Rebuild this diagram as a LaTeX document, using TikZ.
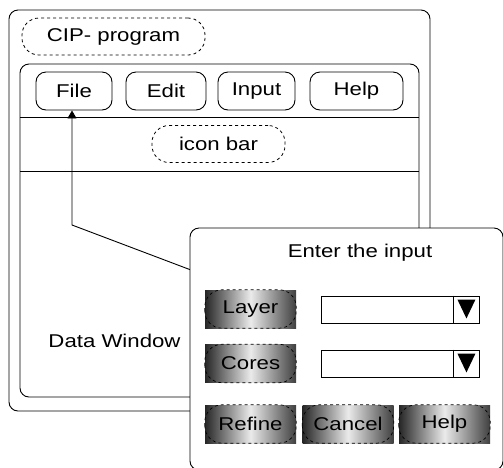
\documentclass[tikz,border=0pt]{standalone}
\usepackage{fontspec}
\setmainfont{Liberation Sans}[FakeStretch=1.2]
\usetikzlibrary{arrows.meta}
\tikzset{
  win/.style={draw, line width=0.9pt, rounded corners=9pt, inner sep=0pt, fill=white},
  menubtn/.style={draw, line width=0.9pt, rounded corners=10pt, inner sep=0pt, minimum height=38pt},
  tag/.style={draw, dashed, line width=0.8pt, rounded corners=17pt, inner sep=0pt, minimum height=37pt},
  shbtn/.style={inner sep=0pt, minimum width=91pt, minimum height=38pt, left color=black!85, right color=black!75, middle color=white!92!black},
  combo/.style={draw, line width=0.9pt, inner sep=0pt, minimum width=158pt, minimum height=27pt},
  txt/.style={inner sep=0pt, font=\fontsize{18.5}{22}\selectfont},
}
\begin{document}
\begin{tikzpicture}[x=1pt,y=-1pt, font=\fontsize{18.5}{22}\selectfont]
\useasboundingbox[fill=white] (0,0) rectangle (503,467);
% outer window
\node[win, minimum width=421pt, minimum height=401pt] (outer) at (219.5,210.5) {};
\node[tag, minimum width=183pt] (title) at (113.5,36.5) {CIP- program};
% inner window
\node[win, minimum width=399pt, minimum height=333pt] (inner) at (219.5,230.5) {};
\node[menubtn, minimum width=76pt] (file) at (74,91) {File};
\node[menubtn, minimum width=80pt] (edit) at (166,91) {Edit};
\node[menubtn, minimum width=77pt] (input) at (256.5,91) {Input};
\node[menubtn, minimum width=93pt] (help) at (356.5,91) {Help};
\coordinate (l1a) at (20,117); \coordinate (l1b) at (419,117);
\coordinate (l2a) at (20,171); \coordinate (l2b) at (419,171);
\draw[line width=0.9pt] (l1a) -- (l1b);
\draw[line width=0.9pt] (l2a) -- (l2b);
\node[tag, minimum width=133pt] (icon) at (218.5,144) {icon bar};
\node[txt] (data) at (114.5,341) {Data Window};
% arrow
\coordinate (bend) at (72,225);
\coordinate (tip) at (191,270);
\draw[line width=0.9pt, -{Triangle[length=8pt,width=9pt]}] (tip) -- (bend) -- (bend |- file.south);
% dialog
\node[win, minimum width=313pt, minimum height=242pt] (dlg) at (346.5,349) {};
\node[txt] (enter) at (360,253) {Enter the input};
% shaded buttons
\foreach \n/\t/\x/\y in {layer/Layer/250.5/309, cores/Cores/250.5/363.5, refine/Refine/250.5/424, cancel/Cancel/348/424, helpb/Help/444.5/424}{
  \node[shbtn] (\n) at (\x,\y) {};
  \draw[dashed, line width=0.7pt, rounded corners=17pt] (\n.south west) rectangle (\n.north east);
  \node[txt] at (\n) {\t};
}
% combo boxes
\foreach \n/\y in {c1/309.5, c2/363.5}{
  \node[combo] (\n) at (400,\y) {};
  \draw[line width=0.9pt] ([xshift=-26pt]\n.north east) -- ([xshift=-26pt]\n.south east);
  \fill ([xshift=-22pt,yshift=-4pt]\n.north east) -- ([xshift=-4pt,yshift=-4pt]\n.north east) -- ([xshift=-13pt,yshift=5pt]\n.south east) -- cycle;
}
\end{tikzpicture}
\end{document}
